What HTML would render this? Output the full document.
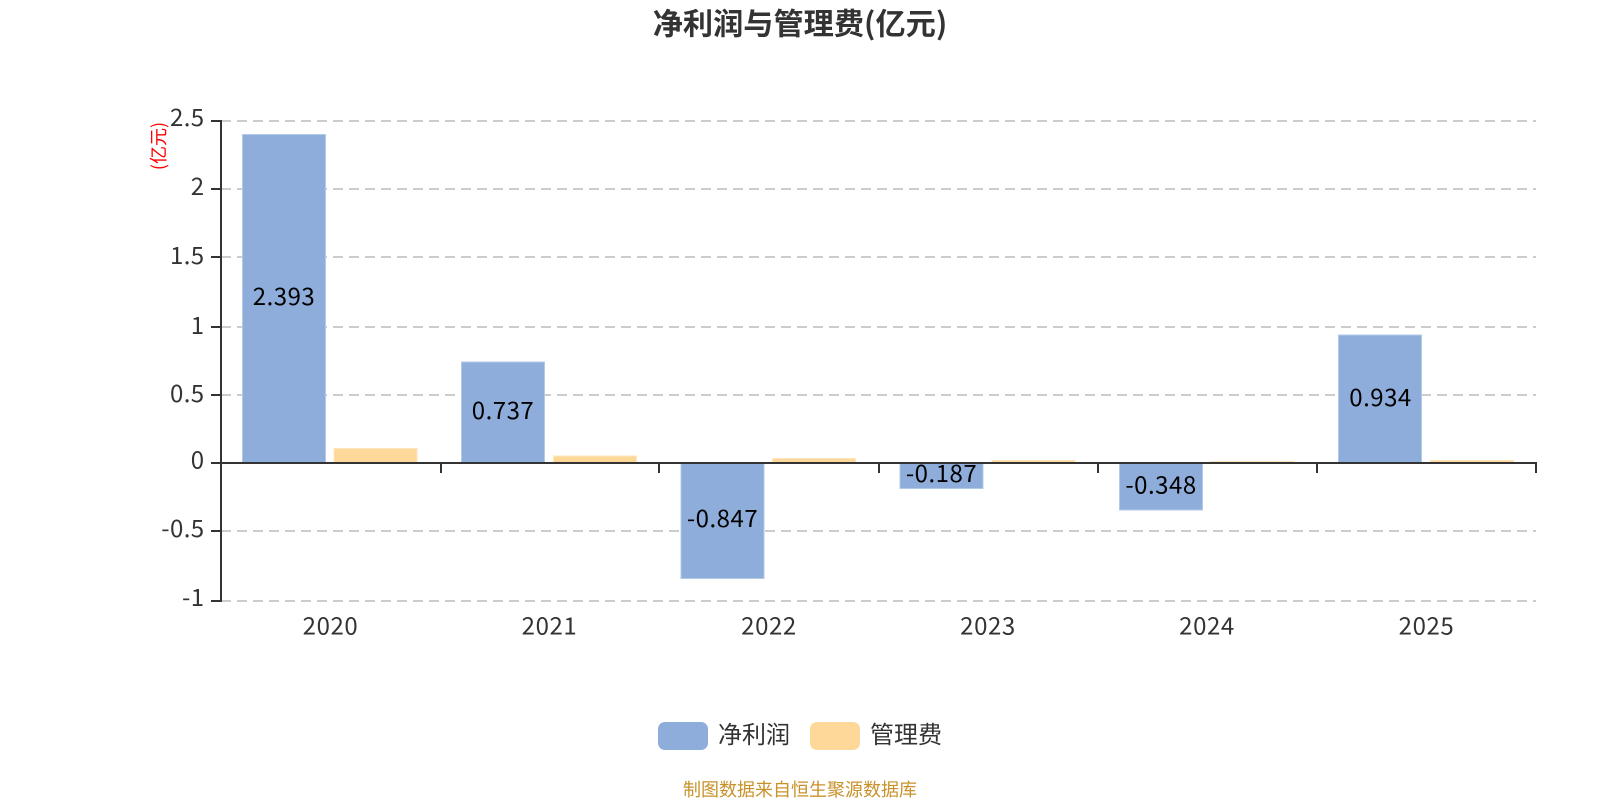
<!DOCTYPE html>
<html><head><meta charset="utf-8"><style>
html,body{margin:0;padding:0;background:#fff;width:1600px;height:800px;overflow:hidden}
svg{display:block}
text{font-family:"Noto Sans CJK SC","Liberation Sans",sans-serif}
</style></head><body>
<svg xmlns="http://www.w3.org/2000/svg" width="1600" height="800" viewBox="0 0 1600 800">
<text x="800" y="34.500" text-anchor="middle" font-size="30.200" font-weight="700" fill="#333">净利润与管理费(亿元)</text>
<g stroke="#ccc" stroke-width="2" stroke-dasharray="10 6" fill="none">
<path d="M221 121H1536"/><path d="M221 189H1536"/><path d="M221 257H1536"/><path d="M221 327H1536"/><path d="M221 395H1536"/><path d="M221 531H1536"/><path d="M221 601H1536"/>
</g>
<g fill="#8eadda" stroke="#b3c9e8" stroke-width="1">
<rect x="242.500" y="134.500" width="83" height="328"/>
<rect x="461.500" y="362" width="83" height="100.500"/>
<rect x="681" y="463" width="83" height="115.500"/>
<rect x="900" y="463" width="83" height="25.500"/>
<rect x="1119.500" y="463" width="83" height="47"/>
<rect x="1338.500" y="335" width="83" height="127.500"/>
</g>
<g fill="#fed898" stroke="#ffe6bd" stroke-width="1">
<rect x="334" y="448.500" width="83" height="14"/>
<rect x="553.500" y="456" width="83" height="6.500"/>
<rect x="772.500" y="458.500" width="83" height="4"/>
<rect x="992" y="460.500" width="83" height="2"/>
<rect x="1211" y="461.500" width="83" height="1"/>
<rect x="1430.500" y="460.500" width="83" height="2"/>
</g>
<g stroke="#333" stroke-width="2" fill="none">
<path d="M221 120V602"/>
<path d="M211 121H221M211 189H221M211 257H221M211 327H221M211 395H221M211 463H221M211 531H221M211 601H221"/>
<path d="M221 463H1537"/>
<path d="M441 463V473M659 463V473M879 463V473M1098 463V473M1317 463V473M1536 463V473"/>
</g>
<g font-size="24" fill="#333" text-anchor="end" letter-spacing="0.400">
<text x="204.500" y="126">2.5</text>
<text x="204.500" y="195">2</text>
<text x="204.500" y="264">1.5</text>
<text x="204.500" y="334">1</text>
<text x="204.500" y="402">0.5</text>
<text x="204.500" y="468.500">0</text>
<text x="204.500" y="537">-0.5</text>
<text x="204.500" y="606">-1</text>
</g>
<g font-size="24" fill="#333" text-anchor="middle" letter-spacing="0.600">
<text x="330.500" y="634.500">2020</text>
<text x="549.500" y="634.500">2021</text>
<text x="769" y="634.500">2022</text>
<text x="988" y="634.500">2023</text>
<text x="1207" y="634.500">2024</text>
<text x="1426.500" y="634.500">2025</text>
</g>
<g font-size="24" fill="#000" text-anchor="middle" letter-spacing="0.500">
<text x="284" y="305">2.393</text>
<text x="503" y="419">0.737</text>
<text x="722.500" y="527">-0.847</text>
<text x="941.500" y="482">-0.187</text>
<text x="1161" y="493.500">-0.348</text>
<text x="1380.500" y="406">0.934</text>
</g>
<text transform="translate(165,146) rotate(-90)" text-anchor="middle" font-size="18" fill="#f00">(亿元)</text>
<rect x="658" y="722" width="50" height="28" rx="7" fill="#8eadda"/>
<text x="718" y="743" font-size="24" fill="#333">净利润</text>
<rect x="810" y="722" width="50" height="28" rx="7" fill="#fed898"/>
<text x="870" y="743" font-size="24" fill="#333">管理费</text>
<text x="800" y="796" text-anchor="middle" font-size="18" fill="#c8922a">制图数据来自恒生聚源数据库</text>
</svg>
</body></html>
